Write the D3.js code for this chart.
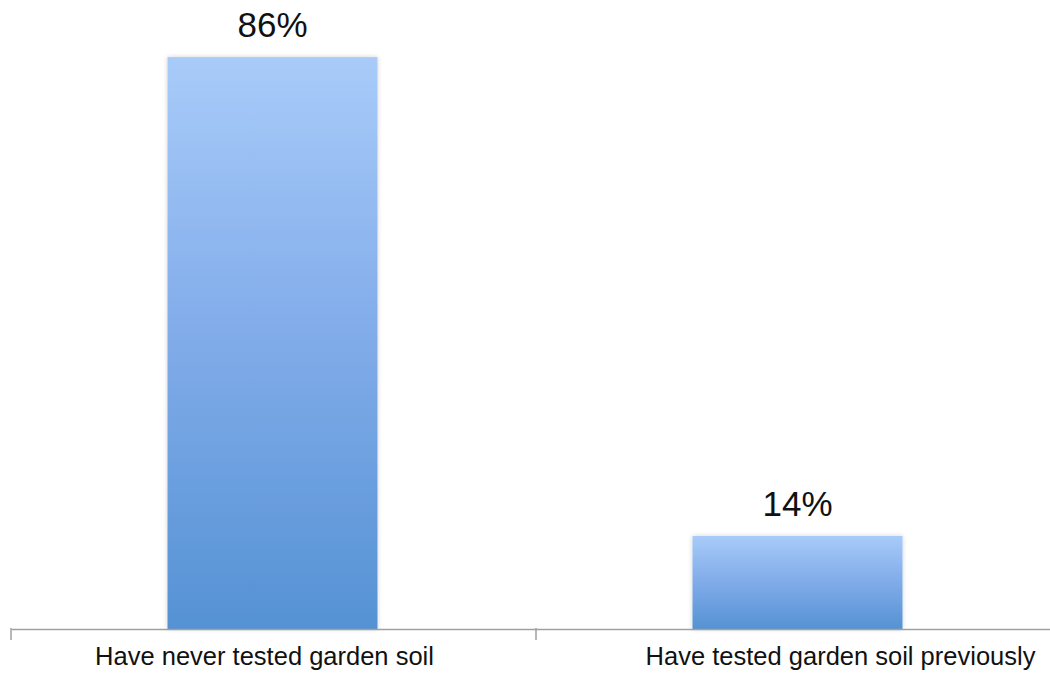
<!DOCTYPE html>
<html>
<head>
<meta charset="utf-8">
<script src="https://cdn.jsdelivr.net/npm/d3@7"></script>
<style>
  html, body { margin: 0; padding: 0; background: #fff; }
  svg { display: block; font-family: "Liberation Sans", Arial, Helvetica, sans-serif; }
</style>
</head>
<body>
<svg id="chart" width="1050" height="675"></svg>
<script>
// Share of respondents by soil-testing history
const categories = ["Have never tested garden soil", "Have tested garden soil previously"];
const values = [86, 14];
const valueLabels = ["86%", "14%"];

const width = 1050, height = 675;
const axisY = 629;
const svg = d3.select("#chart");

const x = d3.scaleBand().domain(categories).range([11, 1061]).padding(0);
const y = d3.scaleLinear().domain([0, 100]).range([axisY, -36]);

const barFrac = 0.4;
const barW = x.bandwidth() * barFrac;

// vertical fill: light blue at top, deeper blue at the base
const defs = svg.append("defs");
const grad = defs.append("linearGradient")
  .attr("id", "barFill").attr("x1", 0).attr("y1", 0).attr("x2", 0).attr("y2", 1);
grad.append("stop").attr("offset", "0%").attr("stop-color", "#a8cbf9");
grad.append("stop").attr("offset", "50%").attr("stop-color", "#80abe9");
grad.append("stop").attr("offset", "100%").attr("stop-color", "#5592d4");

const shadow = defs.append("filter").attr("id", "soft")
  .attr("x", "-10%").attr("y", "-10%").attr("width", "120%").attr("height", "120%");
shadow.append("feGaussianBlur").attr("in", "SourceAlpha").attr("stdDeviation", 2.5).attr("result", "b");
shadow.append("feOffset").attr("in", "b").attr("dx", 0).attr("dy", 0).attr("result", "o");
shadow.append("feComponentTransfer").attr("in", "o").attr("result", "s")
  .append("feFuncA").attr("type", "linear").attr("slope", 0.18);
const merge = shadow.append("feMerge");
merge.append("feMergeNode").attr("in", "s");
merge.append("feMergeNode").attr("in", "SourceGraphic");

const data = categories.map((c, i) => ({ cat: c, value: values[i], label: valueLabels[i] }));

// bars
svg.append("g").selectAll("rect")
  .data(data)
  .join("rect")
  .attr("x", d => x(d.cat) + (x.bandwidth() - barW) / 2 - 1)
  .attr("width", barW)
  .attr("y", d => y(d.value))
  .attr("height", d => y(0) - y(d.value))
  .attr("fill", "url(#barFill)")
  .attr("filter", "url(#soft)");

// value labels above bars
svg.append("g").selectAll("text")
  .data(data)
  .join("text")
  .attr("x", d => x(d.cat) + x.bandwidth() / 2 - 1)
  .attr("y", d => y(d.value) - 20)
  .attr("text-anchor", "middle")
  .attr("font-size", 35)
  .attr("fill", "#111")
  .text(d => d.label);

// category axis
const axis = d3.axisBottom(x).tickSize(0).tickPadding(0);
const gAxis = svg.append("g").attr("transform", `translate(0,${axisY})`).call(axis);
gAxis.select(".domain").attr("stroke", "#a0a0a0").attr("stroke-width", 1.5);
const labelShift = [-9, 42];
gAxis.selectAll(".tick text")
  .attr("font-size", 25.5)
  .attr("font-family", "\"Liberation Sans\", Arial, sans-serif")
  .attr("fill", "#111")
  .attr("dy", 0)
  .attr("y", 36)
  .attr("dx", (d, i) => labelShift[i]);

// boundary tick marks between categories
const bounds = categories.map(c => x(c)).concat([x.range()[1]]);
gAxis.selectAll(".bound")
  .data(bounds)
  .join("line")
  .attr("class", "bound")
  .attr("x1", d => d).attr("x2", d => d)
  .attr("y1", -1).attr("y2", 11)
  .attr("stroke", "#a0a0a0").attr("stroke-width", 1.5);
</script>
</body>
</html>
